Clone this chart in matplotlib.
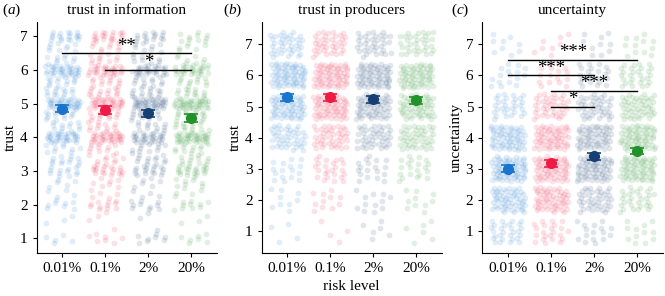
import numpy as np
import matplotlib.pyplot as plt

plt.rcParams['font.family'] = ['Liberation Serif', 'DejaVu Serif']
plt.rcParams['mathtext.fontset'] = 'custom'
plt.rcParams['mathtext.rm'] = 'Liberation Serif'
plt.rcParams['mathtext.it'] = 'Liberation Serif:italic'

risk = ['0.01%', '0.1%', '2%', '20%']
colors = ['#1874CD', '#EE1C44', '#163F73', '#22922A']

# (a) trust in information -- scale is an average of three items, so thirds
info_levels = [1, 1.33, 1.67, 2, 2.33, 2.67, 3, 3.33, 3.67, 4,
               4.33, 4.67, 5, 5.33, 5.67, 6, 6.33, 6.67, 7]
info_counts = [
    [5, 1, 2, 8, 4, 5, 12, 12, 10, 32, 12, 13, 38, 14, 13, 34, 10, 9, 18],
    [7, 1, 3, 11, 5, 7, 18, 10, 10, 34, 12, 13, 34, 14, 12, 30, 10, 9, 20],
    [8, 1, 2, 10, 4, 6, 16, 12, 11, 30, 12, 14, 40, 15, 12, 30, 9, 8, 15],
    [7, 1, 2, 10, 5, 8, 20, 12, 12, 40, 14, 14, 40, 14, 12, 28, 8, 6, 10],
]
info_mean = [4.85, 4.81, 4.71, 4.57]
info_err = [0.11, 0.11, 0.11, 0.11]

# (b) trust in producers
prod_levels = [1, 2, 3, 4, 5, 6, 7]
prod_counts = [
    [4, 9, 16, 42, 62, 70, 38],
    [4, 11, 24, 42, 62, 66, 38],
    [6, 12, 18, 42, 60, 66, 36],
    [6, 10, 20, 46, 58, 64, 34],
]
prod_mean = [5.30, 5.30, 5.23, 5.20]
prod_err = [0.11, 0.11, 0.11, 0.11]

# (c) uncertainty
unc_levels = [1, 2, 3, 4, 5, 6, 7]
unc_counts = [
    [28, 58, 70, 64, 30, 16, 9],
    [22, 58, 62, 60, 40, 16, 8],
    [16, 42, 66, 60, 42, 22, 10],
    [12, 30, 66, 66, 50, 28, 12],
]
unc_mean = [3.00, 3.18, 3.40, 3.57]
unc_err = [0.12, 0.11, 0.11, 0.11]

# significance brackets: (from group, to group, height, label)
info_sig = [(1, 4, 6.5, '**'), (2, 4, 6.0, '*')]
unc_sig = [(1, 4, 6.5, '***'), (1, 3, 6.0, '***'), (2, 4, 5.5, '***'), (2, 3, 5.0, '*')]


def spread(n, start, wx, wy):
    # even, deterministic jitter (R2 low-discrepancy sequence)
    k = np.arange(start, start + n)
    g = 1.32471795724
    u = (0.5 + k / g) % 1
    v = (0.5 + k / g ** 2) % 1
    return (u - 0.5) * 2 * wx, (v - 0.5) * 2 * wy


def panel(ax, levels, counts, means, errs, jy, sig, ylim):
    for i in range(4):
        xs = []
        ys = []
        start = 1 + 97 * i
        for lev, n in zip(levels, counts[i]):
            dx, dy = spread(n, start, 0.4, jy)
            start += n
            xs.extend(i + 1 + dx)
            ys.extend(lev + dy)
        ax.scatter(xs, ys, s=17, color=colors[i], alpha=0.13, linewidths=0, zorder=1)
        ax.errorbar(i + 1, means[i], yerr=errs[i], fmt='o', color=colors[i], ms=7,
                    capsize=5, elinewidth=1.2, capthick=1.2, zorder=3)
    for a, b, h, lab in sig:
        ax.plot([a, b], [h, h], color='black', lw=1, zorder=4)
        ax.text((a + b) / 2, h - 0.04, lab, ha='center', va='bottom', fontsize=13.5, zorder=5)
    ax.set_xticks([1, 2, 3, 4])
    ax.set_xticklabels(risk)
    ax.set_yticks([1, 2, 3, 4, 5, 6, 7])
    ax.set_xlim(0.4, 4.59)
    ax.set_ylim(*ylim)
    for s in ['top', 'right']:
        ax.spines[s].set_visible(False)
    ax.tick_params(labelsize=11, length=3, width=0.8)


fig = plt.figure(figsize=(6.65, 2.96), dpi=100)
ax1 = fig.add_axes([0.0552, 0.1463, 0.2707, 0.7794])
ax2 = fig.add_axes([0.3935, 0.1463, 0.2707, 0.7794])
ax3 = fig.add_axes([0.7253, 0.1463, 0.2713, 0.7794])

panel(ax1, info_levels, info_counts, info_mean, info_err, 0.15, info_sig, (0.57, 7.43))
panel(ax2, prod_levels, prod_counts, prod_mean, prod_err, 0.4, [], (0.3, 7.72))
panel(ax3, unc_levels, unc_counts, unc_mean, unc_err, 0.4, unc_sig, (0.3, 7.72))

ax1.set_title('trust in information', fontsize=11, pad=6)
ax2.set_title('trust in producers', fontsize=11, pad=6)
ax3.set_title('uncertainty', fontsize=11, pad=6)
ax1.set_ylabel('trust', fontsize=11, labelpad=2)
ax2.set_ylabel('trust', fontsize=11, labelpad=2)
ax3.set_ylabel('uncertainty', fontsize=11, labelpad=2)
ax2.set_xlabel('risk level', fontsize=11, labelpad=4)

fig.text(0.003, 0.965, r'($\it{a}$)', fontsize=11, va='center')
fig.text(0.335, 0.965, r'($\it{b}$)', fontsize=11, va='center')
fig.text(0.678, 0.965, r'($\it{c}$)', fontsize=11, va='center')

fig.savefig('out.png', dpi=100)
